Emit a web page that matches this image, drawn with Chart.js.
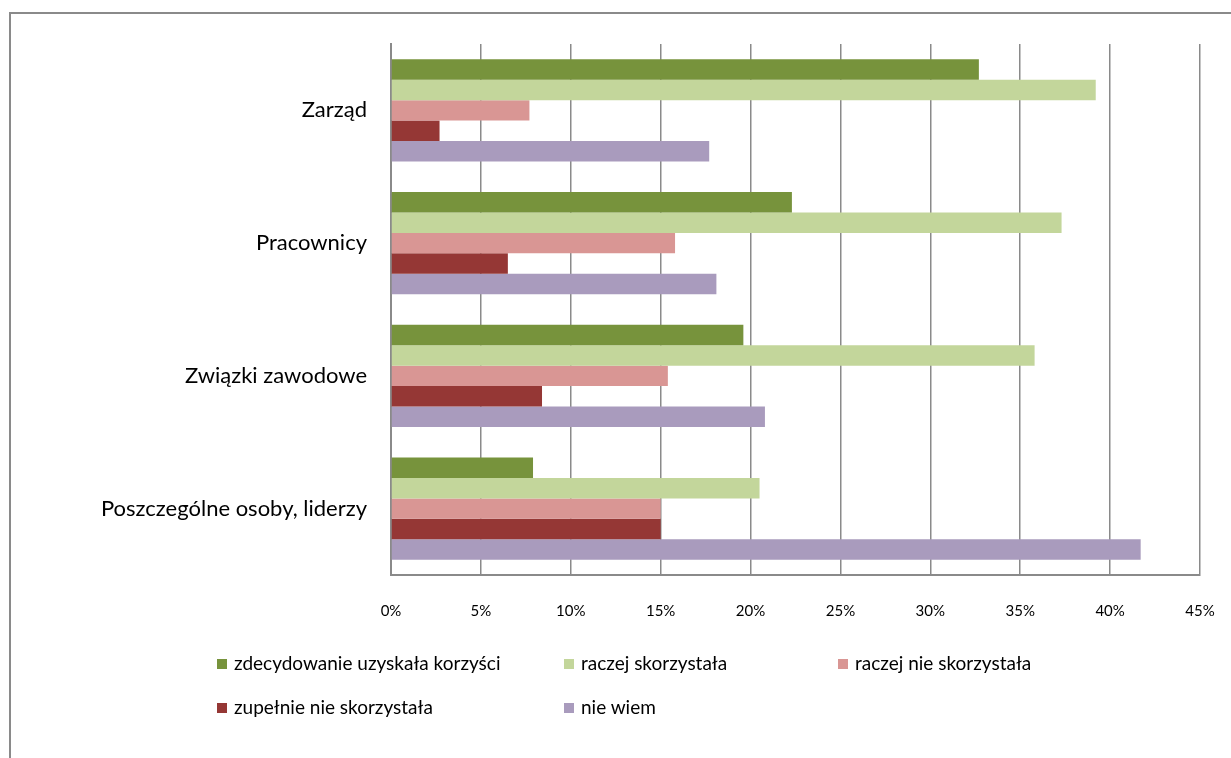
<!DOCTYPE html>
<html>
<head>
<meta charset="utf-8">
<script src="https://cdn.jsdelivr.net/npm/chart.js@4/dist/chart.umd.min.js"></script>
<style>
    html, body { margin: 0; padding: 0; background: #fff; overflow: hidden; }
    #wrap { position: relative; width: 1231px; height: 758px; }
    #frame { position: absolute; left: 9px; top: 12px; width: 1300px; height: 800px;
             border-left: 2px solid #8a8a8a; border-top: 2px solid #8a8a8a; }
    #legend { position: absolute; left: 0; top: 0; font-family: Lato, "Open Sans", sans-serif; font-size: 19px; color: #000; }
    .item { position: absolute; white-space: nowrap; line-height: 22px; }
    .box { display: inline-block; width: 10px; height: 10px; margin-right: 7px; vertical-align: 1px; }
</style>
</head>
<body>
<div id="wrap">
    <div id="frame"></div>
    <canvas id="chart" width="1231" height="758" style="position:absolute;left:0;top:0"></canvas>
    <div id="legend"></div>
</div>
<script>
// kategorie (od góry)
const categories = ['Zarząd', 'Pracownicy', 'Związki zawodowe', 'Poszczególne osoby, liderzy'];

// nazwy serii
const seriesNames = ['zdecydowanie uzyskała korzyści', 'raczej skorzystała', 'raczej nie skorzystała', 'zupełnie nie skorzystała', 'nie wiem'];
const seriesColors = ['#77933C', '#C3D69B', '#D99694', '#953735', '#A99BBD'];

// wartości w %
const zdecydowanie = [32.7, 22.3, 19.6, 7.9];
const raczejTak = [39.2, 37.3, 35.8, 20.5];
const raczejNie = [7.7, 15.8, 15.4, 15.0];
const zupelnieNie = [2.7, 6.5, 8.4, 15.0];
const nieWiem = [17.7, 18.1, 20.8, 41.7];

const xTicks = [0, 5, 10, 15, 20, 25, 30, 35, 40, 45];

const seriesValues = [zdecydowanie, raczejTak, raczejNie, zupelnieNie, nieWiem];

const datasets = seriesNames.map((name, i) => ({
    label: name,
    data: seriesValues[i],
    backgroundColor: seriesColors[i],
    borderWidth: 0,
    categoryPercentage: 0.77,
    barPercentage: 1.0
}));

const ctx = document.getElementById('chart').getContext('2d');
new Chart(ctx, {
    type: 'bar',
    data: { labels: categories, datasets: datasets },
    options: {
        indexAxis: 'y',
        responsive: false,
        animation: false,
        layout: { padding: { top: 44, right: 31, left: 0, bottom: 0 } },
        plugins: { legend: { display: false }, tooltip: { enabled: false } },
        scales: {
            x: {
                min: 0, max: 45,
                afterBuildTicks: scale => { scale.ticks = xTicks.map(v => ({ value: v })); },
                afterFit: scale => {
                    scale.height = 183;
                    scale.paddingRight = 0;
                },
                ticks: {
                    callback: v => v + '%',
                    color: '#000',
                    padding: 27,
                    font: { family: 'Lato, "Open Sans", sans-serif', size: 15 }
                },
                grid: { color: '#8a8a8a', lineWidth: 1.5, drawTicks: false },
                border: { color: '#8a8a8a', width: 2 }
            },
            y: {
                afterFit: scale => { scale.width = 391; },
                ticks: {
                    color: '#000',
                    padding: 24,
                    font: { family: 'Lato, "Open Sans", sans-serif', size: 22 }
                },
                grid: { display: false, drawTicks: false },
                border: { color: '#8a8a8a', width: 2 }
            }
        }
    }
});

// legenda w układzie siatki
const legendPos = [[217, 652], [564, 652], [838, 652], [217, 696], [564, 696]];
const legend = document.getElementById('legend');
seriesNames.forEach((name, i) => {
    const el = document.createElement('div');
    el.className = 'item';
    el.style.left = legendPos[i][0] + 'px';
    el.style.top = legendPos[i][1] + 'px';
    el.innerHTML = `<span class="box" style="background:${seriesColors[i]}"></span>${name}`;
    legend.appendChild(el);
});
</script>
</body>
</html>
